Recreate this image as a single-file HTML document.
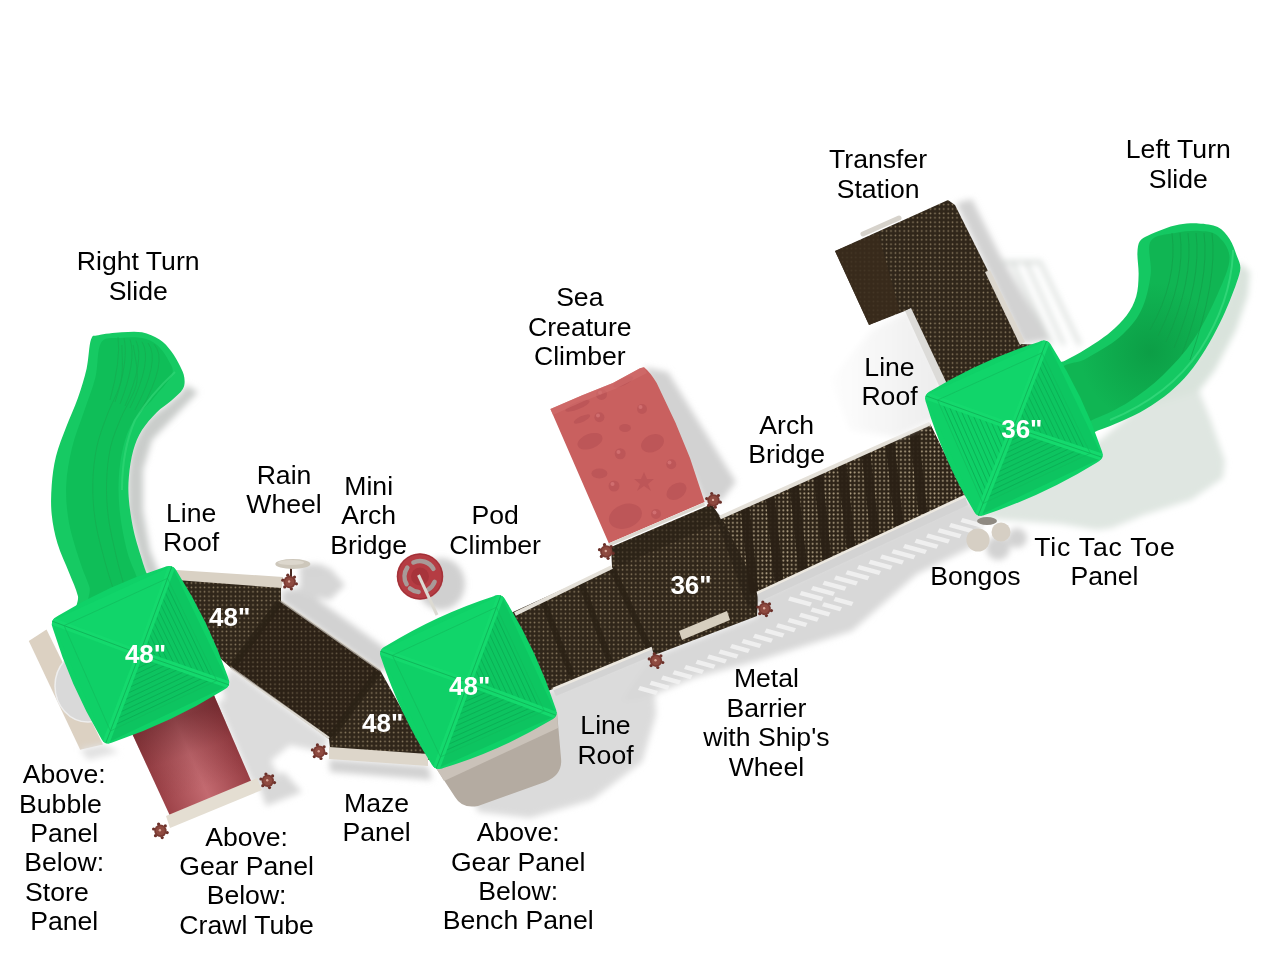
<!DOCTYPE html>
<html><head><meta charset="utf-8">
<style>
html,body{margin:0;padding:0;background:#fff;width:1279px;height:960px;overflow:hidden}
svg{display:block}
.t{font-family:"Liberation Sans",sans-serif;font-size:26.6px;fill:#000;text-anchor:middle}
.w{font-family:"Liberation Sans",sans-serif;font-size:26px;font-weight:bold;fill:#fff;text-anchor:middle}
</style></head>
<body>
<svg width="1279" height="960" viewBox="0 0 1279 960">
<defs>
<filter id="b3" x="-20%" y="-20%" width="140%" height="140%"><feGaussianBlur stdDeviation="3"/></filter>
<filter id="b6" x="-20%" y="-20%" width="140%" height="140%"><feGaussianBlur stdDeviation="6"/></filter>
<pattern id="dots" width="4.4" height="4.4" patternUnits="userSpaceOnUse"><rect width="4.4" height="4.4" fill="#30261a"/><circle cx="2.2" cy="2.2" r="0.85" fill="#8f7f64"/></pattern>
<pattern id="dots2" width="4.2" height="4.2" patternUnits="userSpaceOnUse"><rect width="4.2" height="4.2" fill="#2e2418"/><circle cx="2.1" cy="2.1" r="0.95" fill="#b3a386"/></pattern>
</defs>
<rect width="1279" height="960" fill="#fff"/>
<g id="shadows" filter="url(#b3)">
<path fill="#c9ccca" d="M186.0,385.0 L198.0,392.0 L176.0,415.0 L152.0,440.0 L143.0,470.0 L143.0,510.0 L150.0,550.0 L160.0,575.0 L145.0,575.0 L137.0,546.0 L128.0,512.0 L127.5,480.0 L130.0,456.0 L135.0,441.0 L143.0,426.0 L153.0,415.0 L167.0,405.0 L182.0,392.0 Z"/>
<path fill="#d2d2d2" d="M283.0,590.0 L302.0,588.0 L404.0,662.0 L380.0,672.0 L281.0,601.0 Z"/>
<path fill="#dcdcdc" d="M222.0,690.0 L231.0,668.0 L329.0,739.0 L322.0,752.0 L290.0,745.0 L262.0,768.0 L246.0,770.0 Z"/>
<path fill="#d2d2d2" d="M329.0,759.0 L428.0,766.0 L432.0,780.0 L330.0,772.0 Z"/>
<path fill="#d8d8d8" d="M258.0,782.0 L284.0,772.0 L302.0,792.0 L266.0,806.0 Z"/>
<path fill="#dcdcdc" d="M217.0,702.0 L236.0,696.0 L282.0,782.0 L252.0,783.0 Z"/>
<ellipse cx="441" cy="584" rx="24" ry="26" fill="#d0d0d0"/>
<path fill="#d6d6d6" d="M300.0,570.0 L330.0,568.0 L345.0,585.0 L330.0,600.0 L300.0,595.0 Z"/>
<ellipse cx="313" cy="569" rx="14" ry="5" fill="#d4d4d4"/>
<circle cx="998" cy="548" r="12" fill="#d2d2d2"/><circle cx="1017" cy="538" r="10" fill="#d2d2d2"/>
<path fill="#dbdbdb" d="M540.0,694.0 L652.0,650.0 L656.0,715.0 L642.0,762.0 L592.0,800.0 L530.0,818.0 L478.0,812.0 L470.0,790.0 Z"/>
<path fill="#d8d8d8" d="M652.0,656.0 L757.0,616.0 L758.0,598.0 L965.0,500.0 L985.0,510.0 L976.0,545.0 L917.0,574.0 L852.0,631.0 L760.0,660.0 L694.0,678.0 L640.0,700.0 L620.0,702.0 Z"/>
<path fill="#d2d2d2" d="M644.0,367.0 L668.0,372.0 L736.0,482.0 L722.0,500.0 L705.0,503.0 Z"/>
<path fill="#d2d2d2" d="M956.0,203.0 L972.0,199.0 L1000.0,255.0 L1050.0,340.0 L1023.0,344.0 L988.0,271.0 Z"/>
<path d="M1000,262 L1040,262 L1080,345 M1012,262 L1052,345 M1026,262 L1064,345" stroke="#d0d6d2" stroke-width="3" fill="none"/>
<path fill="#dfe6e1" d="M1100.0,440.0 L1172.0,380.0 L1199.0,391.0 L1210.0,418.0 L1225.0,461.0 L1223.0,478.0 L1191.0,500.0 L1144.0,515.0 L1112.0,528.0 L1097.0,530.0 L1060.0,524.0 L1000.0,520.0 L978.0,516.0 Z"/>
<path fill="#d9e3dc" d="M1239.0,262.0 L1250.0,272.0 L1248.0,295.0 L1236.0,330.0 L1215.0,370.0 L1199.0,391.0 L1170.0,400.0 L1146.0,406.0 L1170.0,387.0 L1191.0,363.0 L1208.0,337.0 L1222.0,310.0 L1232.0,287.0 Z"/>
</g>
<g fill="#f4f4f4" opacity=".85">
<path d="M790.0,596.4 l22,6 l-2,4 l-22,-6 Z"/>
<path d="M801.5,591.1 l22,6 l-2,4 l-22,-6 Z"/>
<path d="M813.0,585.9 l22,6 l-2,4 l-22,-6 Z"/>
<path d="M824.5,580.7 l22,6 l-2,4 l-22,-6 Z"/>
<path d="M836.0,575.4 l22,6 l-2,4 l-22,-6 Z"/>
<path d="M847.5,570.2 l22,6 l-2,4 l-22,-6 Z"/>
<path d="M859.0,565.0 l22,6 l-2,4 l-22,-6 Z"/>
<path d="M870.5,559.7 l22,6 l-2,4 l-22,-6 Z"/>
<path d="M882.0,554.5 l22,6 l-2,4 l-22,-6 Z"/>
<path d="M893.5,549.3 l22,6 l-2,4 l-22,-6 Z"/>
<path d="M905.0,544.0 l22,6 l-2,4 l-22,-6 Z"/>
<path d="M916.5,538.8 l22,6 l-2,4 l-22,-6 Z"/>
<path d="M928.0,533.6 l22,6 l-2,4 l-22,-6 Z"/>
<path d="M939.5,528.3 l22,6 l-2,4 l-22,-6 Z"/>
<path d="M951.0,523.1 l22,6 l-2,4 l-22,-6 Z"/>
<path d="M962.5,517.9 l22,6 l-2,4 l-22,-6 Z"/>
<path d="M640.0,686.0 l18,5 l-2,4 l-18,-5 Z"/>
<path d="M651.5,680.8 l18,5 l-2,4 l-18,-5 Z"/>
<path d="M663.0,675.5 l18,5 l-2,4 l-18,-5 Z"/>
<path d="M674.5,670.3 l18,5 l-2,4 l-18,-5 Z"/>
<path d="M686.0,665.1 l18,5 l-2,4 l-18,-5 Z"/>
<path d="M697.5,659.8 l18,5 l-2,4 l-18,-5 Z"/>
<path d="M709.0,654.6 l18,5 l-2,4 l-18,-5 Z"/>
<path d="M720.5,649.4 l18,5 l-2,4 l-18,-5 Z"/>
<path d="M732.0,644.1 l18,5 l-2,4 l-18,-5 Z"/>
<path d="M743.5,638.9 l18,5 l-2,4 l-18,-5 Z"/>
<path d="M755.0,633.7 l18,5 l-2,4 l-18,-5 Z"/>
<path d="M766.5,628.4 l18,5 l-2,4 l-18,-5 Z"/>
<path d="M778.0,623.2 l18,5 l-2,4 l-18,-5 Z"/>
<path d="M789.5,618.0 l18,5 l-2,4 l-18,-5 Z"/>
<path d="M801.0,612.7 l18,5 l-2,4 l-18,-5 Z"/>
<path d="M812.5,607.5 l18,5 l-2,4 l-18,-5 Z"/>
<path d="M824.0,602.3 l18,5 l-2,4 l-18,-5 Z"/>
<path d="M835.5,597.0 l18,5 l-2,4 l-18,-5 Z"/>
</g>
<g id="slides">
<path fill="#16ca63" d="M91.0,339.6 C93.0,334.0 93.2,336.4 98.3,335.2 C103.4,334.0 114.3,332.8 121.6,332.3 C128.9,331.8 135.7,331.1 142.0,332.3 C148.3,333.5 154.6,336.5 159.5,339.6 C164.4,342.8 167.8,346.8 171.2,351.2 C174.6,355.6 177.7,361.4 179.9,365.8 C182.1,370.2 183.8,373.6 184.3,377.5 C184.8,381.4 185.0,385.2 182.8,389.1 C180.6,393.0 175.6,396.9 171.2,400.8 C166.8,404.7 161.5,407.5 156.6,412.4 C151.7,417.3 145.9,423.7 142.0,430.0 C138.1,436.3 135.5,442.5 133.3,450.3 C131.1,458.1 129.6,468.3 128.9,476.6 C128.2,484.9 128.2,491.2 128.9,499.9 C129.6,508.6 131.4,519.8 133.3,529.0 C135.2,538.2 138.5,548.1 140.6,555.3 C142.7,562.5 144.1,566.2 146.0,572.0 C147.9,577.8 163.0,582.3 152.0,590.0 C141.0,597.7 92.3,617.0 80.0,618.0 C67.7,619.0 79.7,603.5 77.9,596.0 C76.1,588.5 72.5,581.4 69.1,572.7 C65.7,564.0 60.4,553.3 57.5,543.6 C54.6,533.9 52.7,524.2 51.7,514.5 C50.7,504.8 51.0,495.0 51.7,485.3 C52.4,475.6 53.6,465.9 56.0,456.2 C58.4,446.5 62.6,436.7 66.2,427.0 C69.9,417.3 74.5,407.6 77.9,397.9 C81.3,388.2 84.4,378.4 86.6,368.7 C88.8,359.0 89.0,345.2 91.0,339.6 Z"/>
<path fill="#0fbe58" d="M101.2,342.5 C105.5,335.9 114.2,338.8 121.0,338.0 C127.8,337.2 136.0,336.8 142.0,338.0 C148.0,339.2 152.6,341.3 157.0,345.0 C161.4,348.7 165.7,355.1 168.2,360.0 C170.7,364.9 174.4,368.2 172.0,374.5 C169.6,380.8 160.1,390.1 153.7,397.9 C147.2,405.7 138.4,412.9 133.3,421.2 C128.2,429.4 125.5,437.7 123.1,447.4 C120.7,457.1 119.2,468.3 118.7,479.5 C118.2,490.7 118.6,502.4 120.1,514.5 C121.5,526.6 124.7,542.1 127.4,552.3 C130.1,562.5 134.1,569.4 136.2,575.7 C138.3,582.0 147.4,585.1 140.0,590.0 C132.6,594.9 100.4,605.5 92.0,605.0 C83.6,604.5 91.4,594.1 89.5,587.3 C87.6,580.5 84.2,574.7 80.8,564.0 C77.4,553.3 71.5,536.3 69.1,523.2 C66.7,510.1 65.7,497.9 66.2,485.3 C66.7,472.7 69.2,459.5 72.1,447.4 C75.0,435.2 79.8,424.0 83.7,412.4 C87.6,400.8 92.5,389.1 95.4,377.5 C98.3,365.9 96.9,349.1 101.2,342.5 Z"/>
<g stroke="#17a94f" stroke-width="0.8" fill="none" opacity=".8">
<path d="M121.9,345.0 C121.7,350.9 123.6,368.6 121.1,380.3 C118.7,392.0 111.2,403.9 107.2,415.0 C103.1,426.1 99.2,435.7 96.8,447.0 C94.4,458.3 93.1,470.8 92.8,483.0 C92.6,495.2 93.2,507.2 95.2,520.0 C97.1,532.9 101.6,548.9 104.5,560.0 C107.4,571.2 111.2,582.3 112.5,586.7"/>
<path d="M133.2,345.0 C133.8,351.2 138.8,370.1 136.8,382.2 C134.8,394.3 125.6,406.6 121.2,417.4 C116.8,428.2 113.0,436.3 110.6,447.0 C108.2,457.7 107.0,469.6 106.6,481.4 C106.2,493.2 106.8,505.0 108.4,517.6 C110.0,530.2 113.9,545.7 116.4,556.8 C118.9,567.9 122.4,579.5 123.6,584.0"/>
<path d="M118,337.0 Q121,360 110,400"/>
<path d="M124,338.2 Q129,360 115,402"/>
<path d="M130,339.4 Q137,360 120,404"/>
<path d="M136,340.6 Q145,360 125,406"/>
<path d="M142,341.8 Q153,360 130,408"/>
<path d="M148,343.0 Q161,360 135,410"/>
<path d="M154,344.2 Q169,360 140,412"/>
</g>
<path fill="#14c862" d="M1064.4,361.1 C1071.2,357.6 1078.3,353.9 1085.9,349.1 C1093.5,344.3 1103.1,338.0 1109.9,332.4 C1116.7,326.8 1122.2,321.6 1126.6,315.6 C1131.0,309.6 1134.2,303.2 1136.2,296.4 C1138.2,289.6 1138.4,282.1 1138.6,274.9 C1138.8,267.7 1137.2,258.9 1137.4,253.3 C1137.6,247.7 1138.0,244.3 1139.8,241.3 C1141.6,238.3 1144.4,237.4 1148.2,235.4 C1152.0,233.4 1157.4,231.2 1162.6,229.4 C1167.8,227.6 1173.3,225.6 1179.3,224.6 C1185.3,223.6 1192.1,223.0 1198.5,223.4 C1204.9,223.8 1212.5,224.4 1217.7,227.0 C1222.9,229.6 1226.4,234.2 1229.6,239.0 C1232.8,243.8 1235.0,250.9 1236.8,255.7 C1238.6,260.5 1240.4,263.3 1240.4,267.7 C1240.4,272.1 1238.6,276.5 1236.8,282.1 C1235.0,287.7 1232.4,294.4 1229.6,301.2 C1226.8,308.0 1224.0,314.8 1220.0,322.8 C1216.0,330.8 1210.9,340.7 1205.7,349.1 C1200.5,357.5 1194.9,365.9 1188.9,373.1 C1182.9,380.3 1177.0,386.2 1169.8,392.2 C1162.6,398.2 1153.8,404.2 1145.8,409.0 C1137.8,413.8 1129.9,417.4 1121.9,421.0 C1113.9,424.6 1106.6,427.4 1097.9,430.6 C1089.2,433.8 1078.8,450.1 1070.0,440.0 C1061.2,429.9 1045.9,383.1 1045.0,370.0 C1044.1,356.9 1057.6,364.6 1064.4,361.1 Z"/>
<defs><radialGradient id="rsg" gradientUnits="userSpaceOnUse" cx="1150" cy="352" r="70"><stop offset="0" stop-color="#0c9e46"/><stop offset="1" stop-color="#10b553"/></radialGradient></defs>
<path fill="url(#rsg)" d="M1150.6,241.3 C1154.7,234.3 1166.8,234.7 1175.0,233.0 C1183.2,231.3 1192.8,230.5 1200.0,231.0 C1207.2,231.5 1213.1,231.5 1218.0,236.0 C1222.9,240.5 1229.6,248.4 1229.6,258.1 C1229.5,267.8 1223.7,280.4 1217.7,294.0 C1211.7,307.6 1202.9,326.0 1193.7,339.6 C1184.5,353.2 1173.4,365.1 1162.6,375.5 C1151.8,385.9 1140.2,394.6 1129.0,401.8 C1117.8,409.0 1105.3,414.7 1095.5,418.6 C1085.7,422.5 1075.9,432.8 1070.0,425.0 C1064.1,417.2 1057.3,383.1 1060.0,372.0 C1062.7,360.9 1076.0,364.5 1085.9,358.7 C1095.8,352.9 1110.3,345.2 1119.5,337.2 C1128.7,329.2 1135.8,321.2 1141.0,310.8 C1146.2,300.4 1149.0,286.5 1150.6,274.9 C1152.2,263.3 1146.5,248.3 1150.6,241.3 Z"/>
<g stroke="#139c48" stroke-width="0.8" fill="none" opacity=".8">
<path d="M1172,233 Q1178,280 1150,330"/>
<path d="M1180,233 Q1186,280 1158,336"/>
<path d="M1188,233 Q1194,280 1166,342"/>
<path d="M1196,233 Q1202,280 1174,348"/>
<path d="M1204,233 Q1210,280 1182,354"/>
<path d="M1212,233 Q1218,280 1190,360"/>
</g>
<path d="M1233,250 Q1232,300 1200,350 Q1170,395 1110,420" stroke="#3bdc80" stroke-width="2" fill="none" opacity=".7"/>
<path d="M175,372 Q150,395 135,420 Q122,450 122,490" stroke="#36d87a" stroke-width="2" fill="none" opacity=".6"/>
</g>
<g id="decks">
<path fill="#dcd1c2" d="M28.8,641.0 L46.5,629.5 L103.0,744.5 L80.2,749.8 Z"/>
<path fill="#e2e2e2" d="M80.0,749.0 L103.0,744.0 L119.0,752.0 L88.0,760.0 Z" filter="url(#b3)"/>
<ellipse cx="88" cy="686" rx="33" ry="36" fill="#d9d9d9" stroke="#eeeeee" stroke-width="1.5"/>
<defs><linearGradient id="tubeg" gradientUnits="userSpaceOnUse" x1="150" y1="780" x2="236" y2="742"><stop offset="0" stop-color="#9a3f45"/><stop offset=".5" stop-color="#c36a70"/><stop offset="1" stop-color="#963c42"/></linearGradient></defs>
<path fill="url(#tubeg)" d="M124.0,716.0 L207.0,679.0 L252.0,783.0 L171.0,818.0 Z"/>
<defs><linearGradient id="tubesh" gradientUnits="userSpaceOnUse" x1="175" y1="720" x2="200" y2="790"><stop offset="0" stop-color="#5a1e22" stop-opacity=".55"/><stop offset=".5" stop-color="#5a1e22" stop-opacity=".15"/><stop offset="1" stop-color="#5a1e22" stop-opacity="0"/></linearGradient></defs>
<path fill="url(#tubesh)" d="M124.0,716.0 L207.0,679.0 L252.0,783.0 L171.0,818.0 Z"/>
<path fill="#e4ded2" d="M166.0,816.0 L257.0,778.0 L262.0,790.0 L170.0,828.0 Z"/>
<path fill="url(#dots)" d="M175.0,579.0 L281.0,587.0 L281.0,601.0 L380.0,670.0 L430.0,760.0 L330.0,748.0 L329.0,739.0 L231.0,668.0 L200.0,640.0 Z"/>
<path fill="#d9d1c4" d="M176.0,570.0 L283.0,577.0 L282.0,588.0 L176.0,580.0 Z"/>
<path fill="#ddd6ca" d="M329.0,747.0 L428.0,754.0 L428.0,766.0 L329.0,759.0 Z"/>
<path d="M281,601 L380,670 M231,668 L329,738" stroke="#dcd8d0" stroke-width="2.5"/>
<path fill="url(#dots)" d="M500.0,618.0 L612.0,567.0 L611.0,547.0 L712.0,504.0 L720.0,517.5 L930.0,423.5 L965.0,495.5 L757.0,592.5 L757.0,616.0 L652.0,656.0 L650.0,648.0 L553.0,689.0 L540.0,694.0 Z"/>
<path fill="#241b10" opacity=".35" d="M281.0,601.0 L380.0,670.0 L331.0,738.0 L231.0,668.0 Z"/>
<line x1="279" y1="603" x2="233" y2="666" stroke="#2a2115" stroke-width="7" opacity="0.75"/>
<line x1="378" y1="672" x2="331" y2="737" stroke="#2a2115" stroke-width="7" opacity="0.75"/>
<line x1="543" y1="600" x2="572" y2="676" stroke="#2a2115" stroke-width="6" opacity="0.8"/>
<line x1="581" y1="582" x2="610" y2="662" stroke="#2a2115" stroke-width="6" opacity="0.8"/>
<path fill="#2a2115" opacity=".55" d="M611.0,548.0 L712.0,505.0 L720.0,522.0 L619.0,566.0 Z"/>
<path fill="#2a2115" opacity=".65" d="M712.0,506.0 L722.0,518.0 L759.0,591.0 L757.0,616.0 L745.0,600.0 Z"/>
<line x1="612" y1="568" x2="650" y2="650" stroke="#2a2115" stroke-width="6" opacity="0.8"/>
<path fill="url(#dots2)" d="M722.0,518.0 L930.0,424.0 L965.0,495.5 L759.0,592.0 Z"/>
<line x1="745" y1="507.31" x2="754" y2="592.8989" stroke="#2a2015" stroke-width="9" opacity="0.92"/>
<line x1="770" y1="496.12" x2="779" y2="581.2414" stroke="#2a2015" stroke-width="9" opacity="0.92"/>
<line x1="794" y1="485.37760000000003" x2="803" y2="570.0502" stroke="#2a2015" stroke-width="9" opacity="0.92"/>
<line x1="818" y1="474.6352" x2="827" y2="558.859" stroke="#2a2015" stroke-width="9" opacity="0.92"/>
<line x1="842" y1="463.8928" x2="851" y2="547.6677999999999" stroke="#2a2015" stroke-width="9" opacity="0.92"/>
<line x1="866" y1="453.1504" x2="875" y2="536.4766" stroke="#2a2015" stroke-width="9" opacity="0.92"/>
<line x1="890" y1="442.408" x2="899" y2="525.2854" stroke="#2a2015" stroke-width="9" opacity="0.92"/>
<line x1="914" y1="431.6656" x2="923" y2="514.0942" stroke="#2a2015" stroke-width="9" opacity="0.92"/>
<path d="M515,614 L612,567 M720,517.5 L930,423.5" stroke="#e4e0d8" stroke-width="4"/>
<path fill="#d3d3d3" d="M757.0,593.0 L965.0,496.0 L968.0,505.0 L759.0,602.0 Z"/>
<path fill="#d3d3d3" d="M553.0,689.5 L652.0,648.5 L654.0,655.0 L556.0,696.0 Z"/>
<path d="M553,689 L652,648 M757,593 L965,496" stroke="#ece8e0" stroke-width="2.5"/>
<path fill="#d6cebe" d="M679.0,631.0 L727.0,611.0 L730.0,620.0 L682.0,640.0 Z"/>
<defs><linearGradient id="plg" gradientUnits="userSpaceOnUse" x1="940" y1="380" x2="820" y2="380"><stop offset="0" stop-color="#ededed"/><stop offset="1" stop-color="#ffffff"/></linearGradient></defs>
<path fill="url(#plg)" filter="url(#b3)" d="M872.0,330.0 L908.0,311.0 L940.0,376.0 L940.0,417.0 L897.0,437.0 L850.0,430.0 L830.0,380.0 Z"/>
<path fill="url(#dots)" d="M835.0,251.0 L948.0,200.0 L955.0,205.0 L988.0,271.0 L1021.0,344.0 L1040.0,345.0 L946.0,387.0 L910.0,309.0 L869.0,325.0 Z"/>
<path fill="#3a2c1c" opacity=".85" d="M835.0,251.0 L878.0,233.0 L900.0,312.0 L869.0,325.0 Z"/>
<path fill="#dcd7ce" d="M985.0,272.0 L990.0,270.0 L1025.0,342.0 L1020.0,345.0 Z"/>
<path fill="#dcdbd8" d="M905.0,311.0 L911.0,308.0 L948.0,386.0 L941.0,390.0 Z"/>
<path d="M863,234 L899,218" stroke="#d6d2cb" stroke-width="5" stroke-linecap="round"/>
<path fill="#c9605f" d="M550.4,409 L581.7,395.4 L612.9,382.9 L640,368.3 L644,367.3 Q650,372 656.7,383 L675.4,422.5 L690,458 L704.6,502 L608.8,543.3 Z"/>
<path d="M608.8,545 L704.6,504" stroke="#dcd8d0" stroke-width="3"/>
<g fill="#bd5658">
<circle cx="601.5" cy="394.4" r="5.5"/>
<circle cx="642" cy="409" r="5"/>
<circle cx="599.4" cy="417.3" r="5"/>
<circle cx="620.2" cy="453.75" r="5.5"/>
<circle cx="671.25" cy="464.2" r="5"/>
<circle cx="614" cy="486" r="5.5"/>
<circle cx="656" cy="514" r="5"/>
<ellipse cx="590" cy="441.25" rx="13" ry="7.5" transform="rotate(-20 590 441.25)"/>
<ellipse cx="652.5" cy="443.3" rx="12" ry="8.5" transform="rotate(-25 652.5 443.3)"/>
<ellipse cx="676.5" cy="491.25" rx="11" ry="7.5" transform="rotate(-35 676.5 491.25)"/>
<ellipse cx="625.4" cy="516.25" rx="17" ry="12" transform="rotate(-20 625.4 516.25)"/>
<ellipse cx="623.3" cy="381.9" rx="11" ry="3.5" transform="rotate(-25 623.3 381.9)"/>
<ellipse cx="577.5" cy="405.8" rx="13" ry="3.5" transform="rotate(-22 577.5 405.8)"/>
<ellipse cx="582" cy="419" rx="9" ry="3" transform="rotate(-25 582 419)"/>
</g>
<g fill="#bd5658"><path d="M644,472 L647,479 L654,479 L648,484 L651,491 L644,486 L637,491 L640,484 L634,479 L641,479 Z"/><ellipse cx="599.4" cy="473.5" rx="8" ry="5"/><ellipse cx="625" cy="428" rx="6" ry="4"/></g>
<g fill="#d9797a" opacity=".7">
<circle cx="600" cy="392.5" r="2"/>
<circle cx="640.5" cy="407" r="2"/>
<circle cx="598" cy="415.5" r="2"/>
<circle cx="618.5" cy="452" r="2"/>
<circle cx="669.5" cy="462.5" r="2"/>
<circle cx="612.5" cy="484" r="2"/>
<circle cx="654.5" cy="512.5" r="2"/>
</g>
<path d="M550.4,409 L581.7,395.4 L612.9,382.9 L640,368.3 L644,367.3 L647,373 L615,389 L584,401 L553,415 Z" fill="#d26e6d" opacity=".6"/>
<path fill="#b4aba1" d="M436,768 L557,712 L561,758 Q563,775 545,782 L478,806 Q462,809 455,797 Z"/>
<path fill="#cac2b9" d="M436.0,768.0 L557.0,712.0 L558.0,728.0 L444.0,781.0 Z"/>
<circle cx="420" cy="576.5" r="23.3" fill="#b53c43"/>
<circle cx="420" cy="576.5" r="22.3" fill="none" stroke="#9c2f36" stroke-width="1"/>
<path d="M413.4,562.5 A15.5,15.5 0 0 1 433.4,568.8" stroke="#a89a98" stroke-width="4.5" stroke-linecap="round" fill="none"/>
<path d="M406.6,584.2 A15.5,15.5 0 0 1 407.3,567.6" stroke="#a89a98" stroke-width="4.5" stroke-linecap="round" fill="none"/>
<path d="M418.6,591.9 A15.5,15.5 0 0 1 410.0,588.4" stroke="#a89a98" stroke-width="4.5" stroke-linecap="round" fill="none"/>
<path d="M434.6,581.8 A15.5,15.5 0 0 1 427.8,589.9" stroke="#a89a98" stroke-width="4.5" stroke-linecap="round" fill="none"/>
<circle cx="420" cy="576.5" r="9" fill="#a7343b"/>
<line x1="418.5" y1="575" x2="437" y2="615" stroke="#dcdad2" stroke-width="3"/>
<line x1="291" y1="566" x2="291" y2="578" stroke="#4a2a22" stroke-width="2"/>
<ellipse cx="292.8" cy="564" rx="17.5" ry="5" fill="#cdc7bb"/>
<ellipse cx="291" cy="562.5" rx="13" ry="2.5" fill="#dcd7cd"/>
<ellipse cx="987" cy="521" rx="10" ry="4" fill="#8f8a82"/>
<circle cx="978" cy="540" r="11.6" fill="#d6cfc4"/>
<circle cx="1001" cy="532" r="9.5" fill="#d6cfc4"/>
<circle cx="167.2" cy="832.6" r="1.6" fill="#6a3029"/>
<circle cx="162.2" cy="837.6" r="1.6" fill="#6a3029"/>
<circle cx="155.5" cy="835.7" r="1.6" fill="#6a3029"/>
<circle cx="153.6" cy="829.0" r="1.6" fill="#6a3029"/>
<circle cx="158.6" cy="824.0" r="1.6" fill="#6a3029"/>
<circle cx="165.3" cy="825.9" r="1.6" fill="#6a3029"/>
<circle cx="160.4" cy="830.8" r="6.2" fill="#7a3a32"/>
<circle cx="160.4" cy="830.8" r="4.5" fill="#8e4a40"/>
<circle cx="159.9" cy="830.3" r="1.2" fill="#d9a89a"/>
<circle cx="274.5" cy="782.6" r="1.6" fill="#6a3029"/>
<circle cx="269.5" cy="787.6" r="1.6" fill="#6a3029"/>
<circle cx="262.8" cy="785.7" r="1.6" fill="#6a3029"/>
<circle cx="260.9" cy="779.0" r="1.6" fill="#6a3029"/>
<circle cx="265.9" cy="774.0" r="1.6" fill="#6a3029"/>
<circle cx="272.6" cy="775.9" r="1.6" fill="#6a3029"/>
<circle cx="267.7" cy="780.8" r="6.2" fill="#7a3a32"/>
<circle cx="267.7" cy="780.8" r="4.5" fill="#8e4a40"/>
<circle cx="267.2" cy="780.3" r="1.2" fill="#d9a89a"/>
<circle cx="296.4" cy="583.8" r="1.6" fill="#6a3029"/>
<circle cx="291.4" cy="588.8" r="1.6" fill="#6a3029"/>
<circle cx="284.7" cy="586.9" r="1.6" fill="#6a3029"/>
<circle cx="282.8" cy="580.2" r="1.6" fill="#6a3029"/>
<circle cx="287.8" cy="575.2" r="1.6" fill="#6a3029"/>
<circle cx="294.5" cy="577.1" r="1.6" fill="#6a3029"/>
<circle cx="289.6" cy="582" r="6.2" fill="#7a3a32"/>
<circle cx="289.6" cy="582" r="4.5" fill="#8e4a40"/>
<circle cx="289.1" cy="581.5" r="1.2" fill="#d9a89a"/>
<circle cx="326.0" cy="753.5" r="1.6" fill="#6a3029"/>
<circle cx="321.0" cy="758.5" r="1.6" fill="#6a3029"/>
<circle cx="314.3" cy="756.6" r="1.6" fill="#6a3029"/>
<circle cx="312.4" cy="749.9" r="1.6" fill="#6a3029"/>
<circle cx="317.4" cy="744.9" r="1.6" fill="#6a3029"/>
<circle cx="324.1" cy="746.8" r="1.6" fill="#6a3029"/>
<circle cx="319.2" cy="751.7" r="6.2" fill="#7a3a32"/>
<circle cx="319.2" cy="751.7" r="4.5" fill="#8e4a40"/>
<circle cx="318.7" cy="751.2" r="1.2" fill="#d9a89a"/>
<circle cx="613.1" cy="553.3" r="1.6" fill="#6a3029"/>
<circle cx="608.1" cy="558.3" r="1.6" fill="#6a3029"/>
<circle cx="601.4" cy="556.4" r="1.6" fill="#6a3029"/>
<circle cx="599.5" cy="549.7" r="1.6" fill="#6a3029"/>
<circle cx="604.5" cy="544.7" r="1.6" fill="#6a3029"/>
<circle cx="611.2" cy="546.6" r="1.6" fill="#6a3029"/>
<circle cx="606.3" cy="551.5" r="6.2" fill="#7a3a32"/>
<circle cx="606.3" cy="551.5" r="4.5" fill="#8e4a40"/>
<circle cx="605.8" cy="551.0" r="1.2" fill="#d9a89a"/>
<circle cx="720.3" cy="502.2" r="1.6" fill="#6a3029"/>
<circle cx="715.3" cy="507.2" r="1.6" fill="#6a3029"/>
<circle cx="708.6" cy="505.3" r="1.6" fill="#6a3029"/>
<circle cx="706.7" cy="498.6" r="1.6" fill="#6a3029"/>
<circle cx="711.7" cy="493.6" r="1.6" fill="#6a3029"/>
<circle cx="718.4" cy="495.5" r="1.6" fill="#6a3029"/>
<circle cx="713.5" cy="500.4" r="6.2" fill="#7a3a32"/>
<circle cx="713.5" cy="500.4" r="4.5" fill="#8e4a40"/>
<circle cx="713.0" cy="499.9" r="1.2" fill="#d9a89a"/>
<circle cx="662.8" cy="662.5" r="1.6" fill="#6a3029"/>
<circle cx="657.8" cy="667.5" r="1.6" fill="#6a3029"/>
<circle cx="651.1" cy="665.6" r="1.6" fill="#6a3029"/>
<circle cx="649.2" cy="658.9" r="1.6" fill="#6a3029"/>
<circle cx="654.2" cy="653.9" r="1.6" fill="#6a3029"/>
<circle cx="660.9" cy="655.8" r="1.6" fill="#6a3029"/>
<circle cx="656" cy="660.7" r="6.2" fill="#7a3a32"/>
<circle cx="656" cy="660.7" r="4.5" fill="#8e4a40"/>
<circle cx="655.5" cy="660.2" r="1.2" fill="#d9a89a"/>
<circle cx="771.4" cy="610.6" r="1.6" fill="#6a3029"/>
<circle cx="766.4" cy="615.6" r="1.6" fill="#6a3029"/>
<circle cx="759.7" cy="613.7" r="1.6" fill="#6a3029"/>
<circle cx="757.8" cy="607.0" r="1.6" fill="#6a3029"/>
<circle cx="762.8" cy="602.0" r="1.6" fill="#6a3029"/>
<circle cx="769.5" cy="603.9" r="1.6" fill="#6a3029"/>
<circle cx="764.6" cy="608.8" r="6.2" fill="#7a3a32"/>
<circle cx="764.6" cy="608.8" r="4.5" fill="#8e4a40"/>
<circle cx="764.1" cy="608.3" r="1.2" fill="#d9a89a"/>
</g>
<g id="roofs">
<path d="M177.4,572.2 Q173.0,563.2 163.9,567.3 Q108.1,585.2 58.1,615.8 Q49.0,619.9 53.0,629.1 Q70.4,686.0 100.5,737.2 Q104.5,746.4 113.6,742.1 Q171.4,722.5 223.2,690.3 Q232.2,686.0 227.9,677.0 Q208.9,621.5 177.4,572.2 Z" fill="#0fd167"/>
<clipPath id="r1c"><path d="M177.4,572.2 Q173.0,563.2 163.9,567.3 Q108.1,585.2 58.1,615.8 Q49.0,619.9 53.0,629.1 Q70.4,686.0 100.5,737.2 Q104.5,746.4 113.6,742.1 Q171.4,722.5 223.2,690.3 Q232.2,686.0 227.9,677.0 Q208.9,621.5 177.4,572.2 Z"/></clipPath><g clip-path="url(#r1c)">
<polygon points="172.0,566.0 51.8,621.0 139.7,653.9" fill="#11d56a"/>
<polygon points="51.8,621.0 105.6,743.6 139.7,653.9" fill="#0fd067"/>
<polygon points="172.0,566.0 229.4,685.0 139.7,653.9" fill="#0dc661"/>
<polygon points="229.4,685.0 105.6,743.6 139.7,653.9" fill="#0dc460"/>
<clipPath id="r1a"><polygon points="172.0,566.0 229.4,685.0 139.7,653.9"/></clipPath><path d="M151.6,553.6 L226.4,708.7 M147.5,555.6 L222.2,710.7 M143.3,557.6 L218.1,712.7 M139.2,559.6 L214.0,714.7 M135.0,561.6 L209.8,716.7 M130.9,563.6 L205.7,718.7 M126.7,565.6 L201.5,720.7 M122.6,567.6 L197.4,722.7 M118.5,569.6 L193.2,724.6 M114.3,571.6 L189.1,726.6 M110.2,573.6 L184.9,728.6 " stroke="#0bae55" stroke-width="0.9" fill="none" clip-path="url(#r1a)"/>
<clipPath id="r1b"><polygon points="229.4,685.0 105.6,743.6 139.7,653.9"/></clipPath><path d="M241.9,664.7 L82.0,740.4 M239.9,660.5 L80.0,736.2 M238.0,656.4 L78.0,732.1 M236.0,652.2 L76.1,727.9 M234.0,648.1 L74.1,723.8 M232.1,643.9 L72.1,719.6 M230.1,639.7 L70.2,715.5 M228.1,635.6 L68.2,711.3 M226.2,631.4 L66.2,707.1 M224.2,627.3 L64.2,703.0 M222.2,623.1 L62.3,698.8 " stroke="#0bae55" stroke-width="0.9" fill="none" clip-path="url(#r1b)"/>
<line x1="172" y1="566" x2="139.7" y2="653.9" stroke="#14d96d" stroke-width="7"/>
<line x1="172" y1="566" x2="139.7" y2="653.9" stroke="#0fae56" stroke-width="0.8"/>
<line x1="51.8" y1="621" x2="139.7" y2="653.9" stroke="#14d96d" stroke-width="7"/>
<line x1="51.8" y1="621" x2="139.7" y2="653.9" stroke="#0fae56" stroke-width="0.8"/>
<line x1="105.6" y1="743.6" x2="139.7" y2="653.9" stroke="#14d96d" stroke-width="7"/>
<line x1="105.6" y1="743.6" x2="139.7" y2="653.9" stroke="#0fae56" stroke-width="0.8"/>
<line x1="229.4" y1="685" x2="139.7" y2="653.9" stroke="#14d96d" stroke-width="7"/>
<line x1="229.4" y1="685" x2="139.7" y2="653.9" stroke="#0fae56" stroke-width="0.8"/>
<polygon points="167.5,578.3 64.1,625.6 110.4,731.0 216.8,680.6" fill="none" stroke="#11b95c" stroke-width="0.8" opacity=".8"/>
</g>

<path d="M506.2,601.3 Q502.0,592.2 493.0,596.4 Q436.7,614.7 386.3,645.8 Q377.2,650.0 381.5,659.0 Q399.7,713.9 430.7,762.8 Q434.9,771.8 444.1,767.8 Q500.1,750.6 550.4,720.6 Q559.5,716.5 555.3,707.5 Q537.1,651.4 506.2,601.3 Z" fill="#0fd167"/>
<clipPath id="r2c"><path d="M506.2,601.3 Q502.0,592.2 493.0,596.4 Q436.7,614.7 386.3,645.8 Q377.2,650.0 381.5,659.0 Q399.7,713.9 430.7,762.8 Q434.9,771.8 444.1,767.8 Q500.1,750.6 550.4,720.6 Q559.5,716.5 555.3,707.5 Q537.1,651.4 506.2,601.3 Z"/></clipPath><g clip-path="url(#r2c)">
<polygon points="501.0,595.0 380.0,651.0 468.4,682.6" fill="#11d56a"/>
<polygon points="380.0,651.0 436.0,769.0 468.4,682.6" fill="#0fd067"/>
<polygon points="501.0,595.0 556.7,715.5 468.4,682.6" fill="#0dc661"/>
<polygon points="556.7,715.5 436.0,769.0 468.4,682.6" fill="#0dc460"/>
<clipPath id="r2a"><polygon points="501.0,595.0 556.7,715.5 468.4,682.6"/></clipPath><path d="M480.8,582.3 L553.3,739.1 M476.6,584.2 L549.1,741.0 M472.5,586.2 L544.9,743.0 M468.3,588.1 L540.8,744.9 M464.1,590.0 L536.6,746.8 M459.9,592.0 L532.4,748.8 M455.8,593.9 L528.2,750.7 M451.6,595.8 L524.1,752.6 M447.4,597.7 L519.9,754.5 M443.2,599.7 L515.7,756.5 M439.1,601.6 L511.5,758.4 " stroke="#0bae55" stroke-width="0.9" fill="none" clip-path="url(#r2a)"/>
<clipPath id="r2b"><polygon points="556.7,715.5 436.0,769.0 468.4,682.6"/></clipPath><path d="M569.7,695.5 L412.4,765.2 M567.9,691.3 L410.6,761.0 M566.0,687.1 L408.7,756.8 M564.1,682.9 L406.9,752.6 M562.3,678.7 L405.0,748.4 M560.4,674.5 L403.1,744.2 M558.5,670.3 L401.3,740.0 M556.7,666.1 L399.4,735.8 M554.8,661.9 L397.5,731.6 M552.9,657.7 L395.7,727.4 M551.1,653.5 L393.8,723.2 " stroke="#0bae55" stroke-width="0.9" fill="none" clip-path="url(#r2b)"/>
<line x1="501" y1="595" x2="468.4" y2="682.6" stroke="#14d96d" stroke-width="7"/>
<line x1="501" y1="595" x2="468.4" y2="682.6" stroke="#0fae56" stroke-width="0.8"/>
<line x1="380" y1="651" x2="468.4" y2="682.6" stroke="#14d96d" stroke-width="7"/>
<line x1="380" y1="651" x2="468.4" y2="682.6" stroke="#0fae56" stroke-width="0.8"/>
<line x1="436" y1="769" x2="468.4" y2="682.6" stroke="#14d96d" stroke-width="7"/>
<line x1="436" y1="769" x2="468.4" y2="682.6" stroke="#0fae56" stroke-width="0.8"/>
<line x1="556.7" y1="715.5" x2="468.4" y2="682.6" stroke="#14d96d" stroke-width="7"/>
<line x1="556.7" y1="715.5" x2="468.4" y2="682.6" stroke="#0fae56" stroke-width="0.8"/>
<polygon points="496.4,607.3 392.4,655.4 440.5,756.9 544.3,710.9" fill="none" stroke="#11b95c" stroke-width="0.8" opacity=".8"/>
</g>

<path d="M1052.1,346.8 Q1047.8,337.8 1038.7,341.9 Q982.2,359.8 931.5,390.5 Q922.4,394.6 926.4,403.7 Q943.2,459.5 972.9,509.6 Q976.9,518.8 985.9,514.5 Q1044.2,495.0 1096.6,462.7 Q1105.6,458.5 1101.3,449.4 Q1083.0,395.1 1052.1,346.8 Z" fill="#0fd167"/>
<clipPath id="r3c"><path d="M1052.1,346.8 Q1047.8,337.8 1038.7,341.9 Q982.2,359.8 931.5,390.5 Q922.4,394.6 926.4,403.7 Q943.2,459.5 972.9,509.6 Q976.9,518.8 985.9,514.5 Q1044.2,495.0 1096.6,462.7 Q1105.6,458.5 1101.3,449.4 Q1083.0,395.1 1052.1,346.8 Z"/></clipPath><g clip-path="url(#r3c)">
<polygon points="1046.7,340.6 925.2,395.6 1013.2,427.4" fill="#11d56a"/>
<polygon points="925.2,395.6 978.0,516.0 1013.2,427.4" fill="#0fd067"/>
<polygon points="1046.7,340.6 1102.8,457.5 1013.2,427.4" fill="#0dc661"/>
<polygon points="1102.8,457.5 978.0,516.0 1013.2,427.4" fill="#0dc460"/>
<clipPath id="r3a"><polygon points="1046.7,340.6 1102.8,457.5 1013.2,427.4"/></clipPath><path d="M1026.3,328.2 L1099.7,481.2 M1022.2,330.2 L1095.6,483.1 M1018.0,332.2 L1091.4,485.1 M1013.9,334.2 L1087.3,487.1 M1009.7,336.2 L1083.1,489.1 M1005.6,338.1 L1079.0,491.1 M1001.4,340.1 L1074.8,493.1 M997.3,342.1 L1070.7,495.1 M993.1,344.1 L1066.6,497.1 M989.0,346.1 L1062.4,499.1 M984.9,348.1 L1058.3,501.1 M980.7,350.1 L1054.1,503.0 " stroke="#0bae55" stroke-width="0.9" fill="none" clip-path="url(#r3a)"/>
<clipPath id="r3b"><polygon points="1102.8,457.5 978.0,516.0 1013.2,427.4"/></clipPath><path d="M1115.4,437.2 L954.4,512.7 M1113.4,433.1 L952.4,508.6 M1111.5,428.9 L950.5,504.4 M1109.5,424.7 L948.5,500.2 M1107.6,420.6 L946.6,496.1 M1105.6,416.4 L944.6,491.9 M1103.7,412.2 L942.7,487.7 M1101.7,408.1 L940.7,483.6 M1099.8,403.9 L938.8,479.4 M1097.8,399.8 L936.8,475.2 M1095.9,395.6 L934.8,471.1 " stroke="#0bae55" stroke-width="0.9" fill="none" clip-path="url(#r3b)"/>
<clipPath id="r3d"><polygon points="925.2,395.6 978.0,516.0 1013.2,427.4"/></clipPath><path d="M929.1,372.1 L997.9,529.1 M933.3,370.2 L1002.2,527.2 M937.5,368.4 L1006.4,525.4 M941.7,366.5 L1010.6,523.6 M945.9,364.7 L1014.8,521.7 M950.1,362.8 L1019.0,519.9 M954.3,361.0 L1023.2,518.0 M958.6,359.1 L1027.4,516.2 M962.8,357.3 L1031.6,514.3 M967.0,355.4 L1035.9,512.5 M971.2,353.6 L1040.1,510.6 M975.4,351.7 L1044.3,508.8 " stroke="#0bae55" stroke-width="0.9" fill="none" clip-path="url(#r3d)"/>
<line x1="1046.7" y1="340.6" x2="1013.2" y2="427.4" stroke="#14d96d" stroke-width="7"/>
<line x1="1046.7" y1="340.6" x2="1013.2" y2="427.4" stroke="#0fae56" stroke-width="0.8"/>
<line x1="925.2" y1="395.6" x2="1013.2" y2="427.4" stroke="#14d96d" stroke-width="7"/>
<line x1="925.2" y1="395.6" x2="1013.2" y2="427.4" stroke="#0fae56" stroke-width="0.8"/>
<line x1="978" y1="516" x2="1013.2" y2="427.4" stroke="#14d96d" stroke-width="7"/>
<line x1="978" y1="516" x2="1013.2" y2="427.4" stroke="#0fae56" stroke-width="0.8"/>
<line x1="1102.8" y1="457.5" x2="1013.2" y2="427.4" stroke="#14d96d" stroke-width="7"/>
<line x1="1102.8" y1="457.5" x2="1013.2" y2="427.4" stroke="#0fae56" stroke-width="0.8"/>
<polygon points="1042.0,352.8 937.5,400.1 982.9,503.6 1090.3,453.3" fill="none" stroke="#11b95c" stroke-width="0.8" opacity=".8"/>
</g>

</g>
<g id="labels" style="will-change:transform">
<text class="t" x="138.2" y="270.3">Right Turn</text>
<text class="t" x="138.2" y="299.7">Slide</text>
<text class="t" x="878.1" y="168.1">Transfer</text>
<text class="t" x="878.1" y="197.5">Station</text>
<text class="t" x="1178.3" y="158.1">Left Turn</text>
<text class="t" x="1178.3" y="187.5">Slide</text>
<text class="t" x="579.8" y="306.1">Sea</text>
<text class="t" x="579.8" y="335.5">Creature</text>
<text class="t" x="579.8" y="364.9">Climber</text>
<text class="t" x="889.5" y="375.6">Line</text>
<text class="t" x="889.5" y="404.9">Roof</text>
<text class="t" x="786.7" y="433.9">Arch</text>
<text class="t" x="786.7" y="463.2">Bridge</text>
<text class="t" x="284.0" y="483.6">Rain</text>
<text class="t" x="284.0" y="513.0">Wheel</text>
<text class="t" x="368.7" y="494.9">Mini</text>
<text class="t" x="368.7" y="524.3">Arch</text>
<text class="t" x="368.7" y="553.7">Bridge</text>
<text class="t" x="191.1" y="521.7">Line</text>
<text class="t" x="191.1" y="551.1">Roof</text>
<text class="t" x="495.1" y="524.2">Pod</text>
<text class="t" x="495.1" y="553.6">Climber</text>
<text class="t" x="1104.5" y="556.0" textLength="140.6" lengthAdjust="spacing">Tic Tac Toe</text>
<text class="t" x="1104.5" y="585.4">Panel</text>
<text class="t" x="975.4" y="584.8">Bongos</text>
<text class="t" x="605.5" y="734.1">Line</text>
<text class="t" x="605.5" y="763.5">Roof</text>
<text class="t" x="766.4" y="687.2">Metal</text>
<text class="t" x="766.4" y="716.6">Barrier</text>
<text class="t" x="766.4" y="746.0">with Ship&#x27;s</text>
<text class="t" x="766.4" y="775.5">Wheel</text>
<text class="t" x="64.2" y="783.1">Above:</text>
<text class="t" x="60.5" y="812.5">Bubble</text>
<text class="t" x="64.2" y="841.9">Panel</text>
<text class="t" x="64.2" y="871.3">Below:</text>
<text class="t" x="56.9" y="900.7">Store</text>
<text class="t" x="64.2" y="930.1">Panel</text>
<text class="t" x="376.6" y="811.6">Maze</text>
<text class="t" x="376.6" y="841.0">Panel</text>
<text class="t" x="246.6" y="845.5">Above:</text>
<text class="t" x="246.6" y="874.9">Gear Panel</text>
<text class="t" x="246.6" y="904.2">Below:</text>
<text class="t" x="246.6" y="933.7">Crawl Tube</text>
<text class="t" x="518.2" y="841.1">Above:</text>
<text class="t" x="518.2" y="870.5">Gear Panel</text>
<text class="t" x="518.2" y="899.9">Below:</text>
<text class="t" x="518.2" y="929.3">Bench Panel</text>
<text class="w" x="145.5" y="663.1">48&quot;</text>
<text class="w" x="229.6" y="625.6">48&quot;</text>
<text class="w" x="469.6" y="694.8">48&quot;</text>
<text class="w" x="382.7" y="731.9">48&quot;</text>
<text class="w" x="691.0" y="594.0">36&quot;</text>
<text class="w" x="1021.8" y="438.1">36&quot;</text>
</g>
</svg>
</body></html>
